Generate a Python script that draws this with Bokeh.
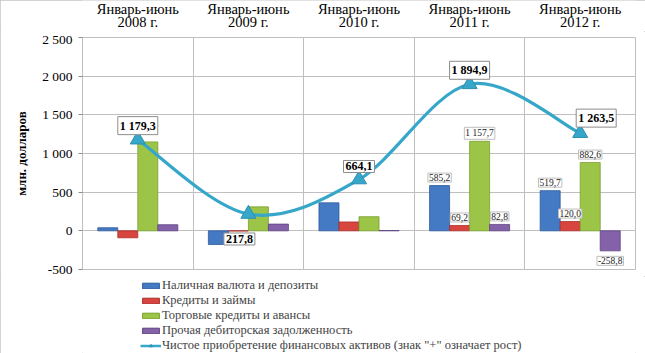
import numpy as np
from bokeh.plotting import figure
from bokeh.layouts import column
from bokeh.models import (ColumnDataSource, Range1d, FixedTicker, Legend, LegendItem)
from bokeh.core.properties import value
from bokeh.embed import file_html
from bokeh.resources import INLINE

# ---------------- data ----------------
periods = ["Январь-июнь\n2008 г.", "Январь-июнь\n2009 г.", "Январь-июнь\n2010 г.",
           "Январь-июнь\n2011 г.", "Январь-июнь\n2012 г."]
cash = [40.0, -177.0, 362.0, 585.2, 519.7]
loans = [-90.0, -2.0, 115.0, 69.2, 120.0]
trade = [1150.0, 310.0, 183.0, 1157.7, 882.6]
other = [79.0, 87.0, 4.0, 82.8, -258.8]
net = [1179.3, 217.8, 664.1, 1894.9, 1263.5]
series_names = ["Наличная валюта и депозиты", "Кредиты и займы",
                "Торговые кредиты и авансы", "Прочая дебиторская задолженность"]
net_name = 'Чистое приобретение финансовых активов (знак "+" означает рост)'
y_ticks = [-500, 0, 500, 1000, 1500, 2000, 2500]
labelled_periods = [3, 4]  # periods whose bars carry value labels

# ---------------- style ----------------
FONT = "Liberation Serif"
colors = ["#4479C4", "#D8443E", "#9CC548", "#8462AA"]
edge = ["#2F5C9C", "#A8302B", "#78A02E", "#5E4282"]
line_color = "#36A7C9"
bar_w = 0.181
offsets = [-0.2715, -0.0905, 0.0905, 0.2715]
net_dx = [0, -9, 0, 0, 16]
net_dy = [-14, 25, -13, -14, -15]


def fmt(v, dec=1):
    s = f"{v:,.{dec}f}"
    return s.replace(",", " ").replace(".", ",")


n = len(periods)
centers = np.arange(n) + 0.5
xr = Range1d(0, n)

# ---- header strip with the period labels ----
hf = figure(width=645, height=31, x_range=xr, y_range=Range1d(0, 1),
            output_backend="svg", toolbar_location=None,
            x_axis_location=None, y_axis_location=None,
            min_border_left=82, min_border_right=10, min_border_top=0, min_border_bottom=0)
hf.outline_line_color = None
hf.xgrid.visible = False
hf.ygrid.visible = False
hf.background_fill_color = "white"
hf.border_fill_color = "white"
hf.text(x=list(centers), y=[0.52] * n, text=periods,
        text_font=value(FONT), text_font_size="14.5px", text_color="black",
        text_align="center", text_baseline="middle", text_line_height=0.82)

# ---- main chart ----
p = figure(width=645, height=245, x_range=xr, y_range=Range1d(-500, 2500),
           output_backend="svg", toolbar_location=None, x_axis_location=None,
           min_border_left=82, min_border_right=10, min_border_top=6, min_border_bottom=7)
p.background_fill_color = "white"
p.border_fill_color = "white"
p.outline_line_color = "#BFBFBF"

ya = p.yaxis[0]
ya.ticker = FixedTicker(ticks=y_ticks)
ya.major_label_overrides = {t: fmt(t, 0) for t in y_ticks}
ya.major_label_text_font = FONT
ya.major_label_text_font_size = "13.5px"
ya.major_label_text_color = "black"
ya.axis_line_color = None
ya.major_tick_line_color = "#8C8C8C"
ya.major_tick_out = 4
ya.major_tick_in = 0
ya.minor_tick_line_color = None
ya.major_label_standoff = 6
ya.axis_label = "млн. долларов"
ya.axis_label_text_font = FONT
ya.axis_label_text_font_style = "bold"
ya.axis_label_text_font_size = "13px"
ya.axis_label_text_color = "black"
ya.axis_label_standoff = 10

p.xgrid.ticker = FixedTicker(ticks=list(range(1, n)))
p.xgrid.grid_line_color = "#BFBFBF"
p.ygrid.ticker = FixedTicker(ticks=y_ticks)
p.ygrid.grid_line_color = "#BFBFBF"

# bars
for k, vals in enumerate([cash, loans, trade, other]):
    src = ColumnDataSource(dict(x=centers + offsets[k], top=vals))
    p.vbar(x="x", top="top", bottom=0, width=bar_w, source=src,
           fill_color=colors[k], line_color=edge[k], line_width=0.8)

# smoothed net line (Catmull-Rom -> cubic Bezier)
P = np.column_stack([centers, np.array(net)])
Pe = np.vstack([P[0], P, P[-1]])
c0 = P[:-1] + (Pe[2:6] - Pe[0:4]) / 6.0
c1 = P[1:] - (Pe[3:7] - Pe[1:5]) / 6.0
bsrc = ColumnDataSource(dict(x0=P[:-1, 0], y0=P[:-1, 1], x1=P[1:, 0], y1=P[1:, 1],
                             cx0=c0[:, 0], cy0=c0[:, 1], cx1=c1[:, 0], cy1=c1[:, 1]))
p.bezier(x0="x0", y0="y0", x1="x1", y1="y1", cx0="cx0", cy0="cy0", cx1="cx1", cy1="cy1",
         source=bsrc, line_color=line_color, line_width=3.2)
p.scatter(x=list(centers), y=net, marker="triangle", size=15,
          fill_color=line_color, line_color="#2C8FB0", line_width=1)

# net labels
nsrc = ColumnDataSource(dict(x=centers, y=net, t=[fmt(v) for v in net],
                             dx=net_dx, dy=net_dy))
p.text(x="x", y="y", text="t", source=nsrc, x_offset="dx", y_offset="dy",
       text_font=value(FONT), text_font_style="bold", text_font_size="12px",
       text_align="center", text_baseline="middle", text_color="black",
       background_fill_color="white", border_line_color="#8C8C8C", padding=2)

# bar labels
bx, by, bt, bdy = [], [], [], []
for k, vals in enumerate([cash, loans, trade, other]):
    for i in labelled_periods:
        bx.append(centers[i] + offsets[k])
        by.append(vals[i])
        bt.append(fmt(vals[i]))
        bdy.append(-8 if vals[i] >= 0 else 10)
lsrc = ColumnDataSource(dict(x=bx, y=by, t=bt, dy=bdy))
p.text(x="x", y="y", text="t", source=lsrc, y_offset="dy",
       text_font=value(FONT), text_font_size="9.5px",
       text_align="center", text_baseline="middle", text_color="#222222",
       background_fill_color="white", border_line_color="#BFBFBF", padding=1)

# ---- legend strip (proxy glyphs sit outside the visible range) ----
lf = figure(width=645, height=77, x_range=Range1d(0, 1), y_range=Range1d(0, 1),
            output_backend="svg", toolbar_location=None,
            x_axis_location=None, y_axis_location=None,
            min_border_left=82, min_border_right=10, min_border_top=0, min_border_bottom=0)
lf.outline_line_color = None
lf.background_fill_color = "white"
lf.border_fill_color = "white"
lf.xgrid.visible = False
lf.ygrid.visible = False
items = []
for k, nm in enumerate(series_names):
    r = lf.vbar(x=[-5], top=[-5], bottom=[-6], width=0.1,
                fill_color=colors[k], line_color=edge[k])
    items.append(LegendItem(label=nm, renderers=[r]))
leg_line = lf.line(x=[-5, -4], y=[-5, -5], line_color=line_color, line_width=2.5)
leg_tri = lf.scatter(x=[-5], y=[-5], marker="triangle", fill_color=line_color,
                     line_color="#2C8FB0")
items.append(LegendItem(label=net_name, renderers=[leg_line, leg_tri]))
legend = Legend(items=items, location=(58, 0), orientation="vertical",
                border_line_color=None, background_fill_alpha=0,
                padding=0, margin=0, spacing=0,
                glyph_width=21, glyph_height=7, label_height=12,
                label_standoff=1, label_text_font=FONT,
                label_text_font_size="12.5px", label_text_line_height=1.0)
lf.add_layout(legend, "center")

layout = column(hf, p, lf, spacing=0)
layout.styles = {"outline": "1px solid #C4C4C4", "outline-offset": "-1px"}
open("out.html", "w").write(file_html(layout, INLINE))
